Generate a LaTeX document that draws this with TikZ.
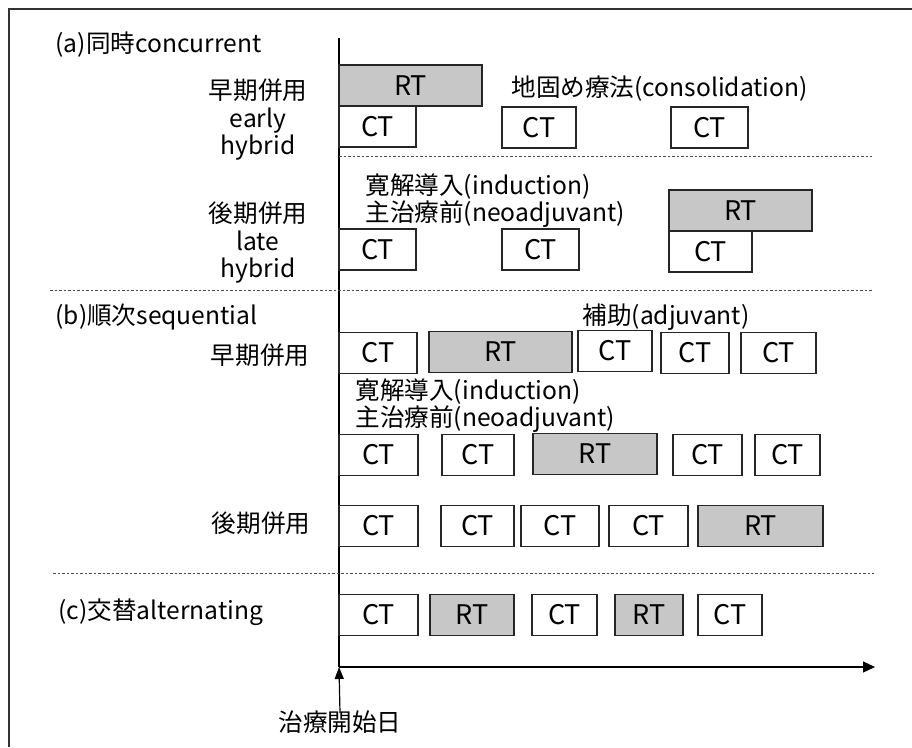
\documentclass[tikz,border=0pt]{standalone}
\usepackage{fontspec}
\setmainfont{Noto Sans CJK JP}
\usetikzlibrary{arrows.meta}

\begin{document}
\begin{tikzpicture}[x=1pt,y=-1pt,
  font=\fontsize{24.6}{27.5}\selectfont,
  ctbox/.style={draw=black!85, line width=1.2pt, fill=white, inner sep=0pt,
    minimum height=41pt, font=\fontsize{27}{30}\selectfont},
  rtbox/.style={ctbox, fill=black!22},
  sepline/.style={black!70, line width=0.9pt, dash pattern=on 2.5pt off 2pt},
  lbl/.style={anchor=west, align=left},
  rowlbl/.style={align=center}]
  \useasboundingbox (0,0) rectangle (912,747);
  % frame and axes
  \draw[line width=1.6pt, black!80] (9,747) -- (9,9) -- (912,9);
  \coordinate (top) at (339,38);
  \coordinate (origin) at (339,667);
  \coordinate (tend) at (875,667);
  \draw[line width=1.2pt] (top) -- (origin);
  \draw[line width=1.2pt, -{Triangle[length=12pt,width=11pt]}] (origin) -- (tend);

  % (a) concurrent
  \node[lbl] (lblA) at (52,45) {(a)同時concurrent};
  \node[rowlbl] (lblAearly) at (258,120) {早期併用\\early\\hybrid};
  \node[rowlbl] (lblAlate) at (258,243) {後期併用\\late\\hybrid};
  \node[rtbox, minimum width=143pt] (a1rt) at (410.5,85.5) {RT};
  \node[ctbox, minimum width=77pt] (a1ct1) at (377.5,126.5) {CT};
  \node[ctbox, minimum width=74pt] (a1ct2) at (539,127.5) {CT};
  \node[ctbox, minimum width=77pt] (a1ct3) at (709.5,127.5) {CT};
  \node[lbl] (a1txt) at (508,89) {地固め療法(consolidation)};
  \draw[sepline] (339,156) -- (872,156);
  \node[lbl] (a2txt) at (362,200.5) {寛解導入(induction)\\主治療前(neoadjuvant)};
  \node[ctbox, minimum width=77pt] (a2ct1) at (377.5,249.5) {CT};
  \node[ctbox, minimum width=77pt] (a2ct2) at (540.5,249.5) {CT};
  \node[rtbox, minimum width=143pt] (a2rt) at (740.5,210.5) {RT};
  \node[ctbox, minimum width=83pt] (a2ct3) at (710.5,251.5) {CT};
  \draw[sepline] (50,290) -- (872,290);

  % (b) sequential
  \node[lbl] (lblB) at (52,317) {(b)順次sequential};
  \node[rowlbl] (lblBearly) at (260,355) {早期併用};
  \node (b1txt) at (666,317) {補助(adjuvant)};
  \node[ctbox, minimum width=78pt] (b1ct1) at (378,353) {CT};
  \node[rtbox, minimum width=143pt] (b1rt) at (500.5,352) {RT};
  \node[ctbox, minimum width=74pt] (b1ct2) at (615,351) {CT};
  \node[ctbox, minimum width=68pt] (b1ct3) at (695,353) {CT};
  \node[ctbox, minimum width=75pt] (b1ct4) at (778.5,353) {CT};
  \node[lbl] (b2txt) at (352,405.5) {寛解導入(induction)\\主治療前(neoadjuvant)};
  \node[ctbox, minimum width=79pt] (b2ct1) at (378.5,455) {CT};
  \node[ctbox, minimum width=72pt] (b2ct2) at (478,455) {CT};
  \node[rtbox, minimum width=124pt] (b2rt) at (595,454) {RT};
  \node[ctbox, minimum width=69pt] (b2ct3) at (707.5,455) {CT};
  \node[ctbox, minimum width=65pt] (b2ct4) at (787.5,455) {CT};
  \node[rowlbl] (lblBlate) at (261,523) {後期併用};
  \node[ctbox, minimum width=79pt] (b3ct1) at (378.5,526) {CT};
  \node[ctbox, minimum width=73pt] (b3ct2) at (477.5,526) {CT};
  \node[ctbox, minimum width=78pt] (b3ct3) at (560,526) {CT};
  \node[ctbox, minimum width=79pt] (b3ct4) at (648.5,526) {CT};
  \node[rtbox, minimum width=125pt] (b3rt) at (760.5,526) {RT};
  \draw[sepline] (53,573) -- (874,573);

  % (c) alternating
  \node[lbl] (lblC) at (55,612) {(c)交替alternating};
  \node[ctbox, minimum width=79pt] (cct1) at (378.5,615) {CT};
  \node[rtbox, minimum width=84pt] (crt1) at (472,615) {RT};
  \node[ctbox, minimum width=65pt] (cct2) at (564.5,615) {CT};
  \node[rtbox, minimum width=68pt] (crt2) at (649,615) {RT};
  \node[ctbox, minimum width=64pt] (cct3) at (730,615) {CT};

  % start day
  \node (start) at (340,722) {治療開始日};
  \draw[line width=1.2pt, -{Triangle[length=12pt,width=9pt]}]
    ([yshift=-6pt]start.north) -- (origin);
\end{tikzpicture}
\end{document}
